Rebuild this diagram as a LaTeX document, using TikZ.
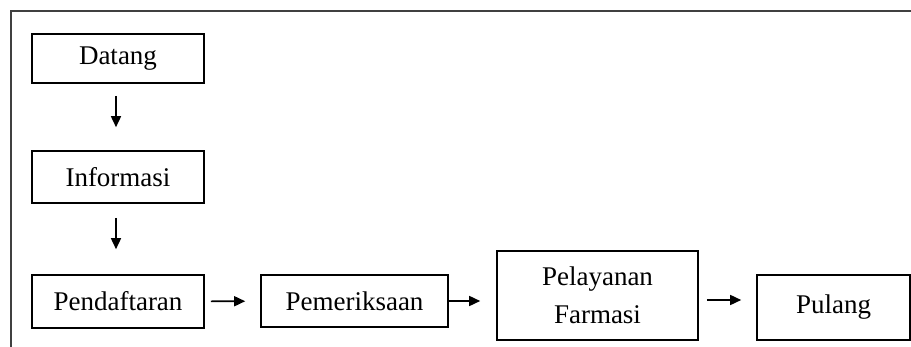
\documentclass[tikz,border=0pt]{standalone}
\usepackage{fontspec}
\setmainfont{Liberation Serif}
\usepackage{tikz}
\usetikzlibrary{arrows.meta}

\begin{document}
\begin{tikzpicture}[x=1pt, y=-1pt,
  kotak/.style={draw, line width=1.6pt, inner sep=0pt, align=center, font=\fontsize{27}{38}\selectfont},
  panah/.style={line width=1.6pt, -{Triangle[length=11pt,width=10pt]}}]

\useasboundingbox (0,0) rectangle (911,347);

% 外框
\draw[line width=2pt, black!75] (11,347) -- (11,11) -- (911,11);

% 定义节点
\node[kotak, minimum width=172pt, minimum height=49pt] (datang) at (118, 58.5) {Datang};
\node[kotak, minimum width=172pt, minimum height=52pt] (informasi) at (118, 177) {Informasi};
\node[kotak, minimum width=172pt, minimum height=53pt] (daftar) at (118, 301.5) {Pendaftaran};
\node[kotak, minimum width=187pt, minimum height=52pt] (periksa) at (354.5, 301) {Pemeriksaan};
\node[kotak, minimum width=201pt, minimum height=89pt] (farmasi) at (597.5, 295.5) {Pelayanan\\Farmasi};
\node[kotak, minimum width=153pt, minimum height=65pt] (pulang) at (833.5, 307.5) {Pulang};

% 连接节点
\draw[panah, shorten <=12pt, shorten >=23pt] ([xshift=-2pt]datang.south) -- ([xshift=-2pt]informasi.north);
\draw[panah, shorten <=14pt, shorten >=25pt] ([xshift=-2pt]informasi.south) -- ([xshift=-2pt]daftar.north);
\draw[panah, shorten <=6pt, shorten >=15pt] (daftar) -- (periksa);
\draw[panah, shorten >=16pt] (periksa.east) -- (periksa.east -| farmasi.west);
\draw[panah, shorten <=8pt, shorten >=15pt] ([yshift=-4.5pt]farmasi.east) -- ([yshift=-4.5pt]farmasi.east -| pulang.west);

\end{tikzpicture}
\end{document}
